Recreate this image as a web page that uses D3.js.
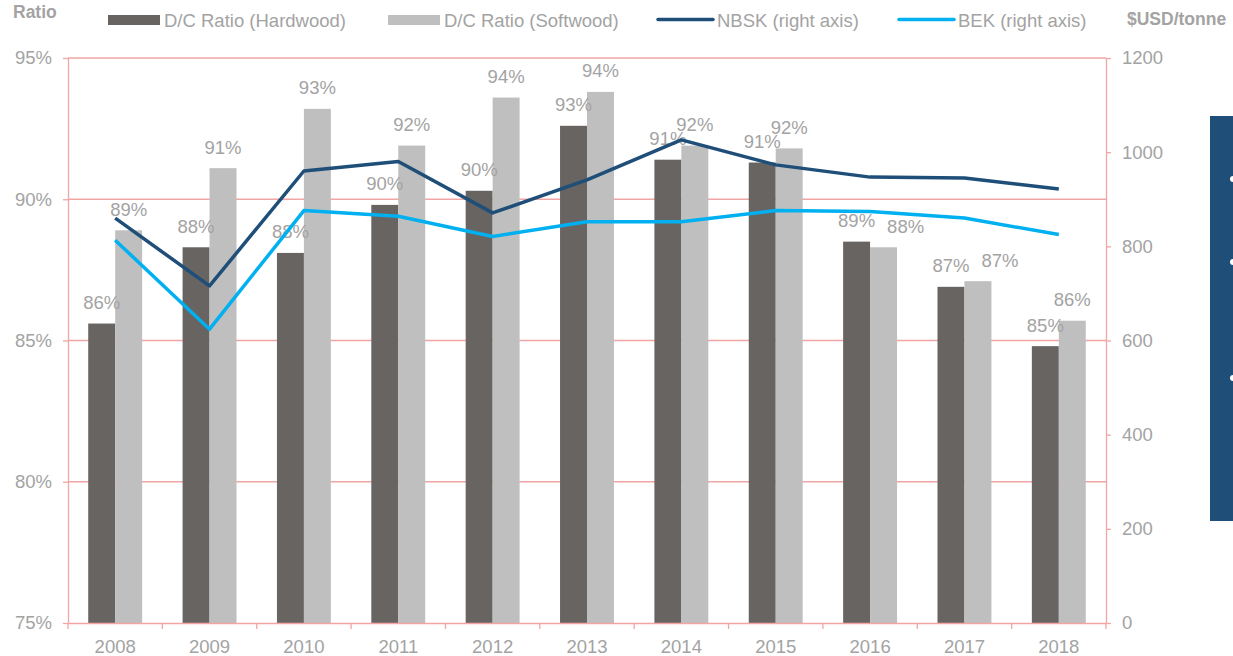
<!DOCTYPE html>
<html>
<head>
<meta charset="utf-8">
<script src="https://cdn.jsdelivr.net/npm/d3@7"></script>
<style>
  html, body { margin: 0; padding: 0; background: #ffffff; }
  svg { display: block; }
  text { font-family: "Liberation Sans", Arial, sans-serif; }
</style>
</head>
<body>
<svg id="chart" width="1233" height="656"></svg>
<script>
// Pulp market: demand/capacity ratios (left axis) and list prices (right axis)
const years = ["2008", "2009", "2010", "2011", "2012", "2013", "2014", "2015", "2016", "2017", "2018"];
const hardwoodRatio = [85.6, 88.3, 88.1, 89.8, 90.3, 92.6, 91.4, 91.3, 88.5, 86.9, 84.8];
const softwoodRatio = [88.9, 91.1, 93.2, 91.9, 93.6, 93.8, 91.9, 91.8, 88.3, 87.1, 85.7];
const nbskPrice = [860, 716, 960, 980, 871, 941, 1026, 973, 947, 945, 922];
const bekPrice = [813, 624, 876, 864, 821, 852, 852, 876, 874, 860, 825];
const ratioTicks = [75, 80, 85, 90, 95];
const priceTicks = [0, 200, 400, 600, 800, 1000, 1200];
const legendItems = [
  { label: "D/C Ratio (Hardwood)", kind: "bar", key: "hardwood" },
  { label: "D/C Ratio (Softwood)", kind: "bar", key: "softwood" },
  { label: "NBSK (right axis)", kind: "line", key: "nbsk" },
  { label: "BEK (right axis)", kind: "line", key: "bek" }
];

const colors = {
  hardwood: "#686462",
  softwood: "#bfbfbf",
  nbsk: "#1f4e79",
  bek: "#00b0f0",
  grid: "#f2a5a5",
  text: "#a3a3a3",
  panel: "#1f4e79"
};
const fontSize = "18.5px";

const svg = d3.select("#chart");
const margin = { left: 68, right: 1106, top: 58, bottom: 623 };

const x = d3.scaleBand().domain(years).range([margin.left, margin.right]).padding(0);
const xSeries = d3.scaleBand().domain(["hardwood", "softwood"]).range([0, x.bandwidth()])
  .paddingInner(0).paddingOuter(0.75);
const yLeft = d3.scaleLinear().domain([75, 95]).range([margin.bottom, margin.top]);
const yRight = d3.scaleLinear().domain([0, 1200]).range([margin.bottom, margin.top]);

// Horizontal gridlines
svg.append("g").selectAll("line")
  .data(ratioTicks.filter(d => d > 75))
  .join("line")
  .attr("x1", margin.left).attr("x2", margin.right)
  .attr("y1", d => yLeft(d)).attr("y2", d => yLeft(d))
  .attr("stroke", colors.grid).attr("stroke-width", 1.3);

// Bars
const rows = years.map((yr, i) => ({ year: yr, hardwood: hardwoodRatio[i], softwood: softwoodRatio[i] }));
const barGroups = svg.append("g").selectAll("g")
  .data(rows)
  .join("g")
  .attr("transform", d => `translate(${x(d.year)},0)`);
barGroups.selectAll("rect")
  .data(d => ["hardwood", "softwood"].map(k => ({ key: k, value: d[k] })))
  .join("rect")
  .attr("x", d => xSeries(d.key))
  .attr("width", xSeries.bandwidth())
  .attr("y", d => yLeft(d.value))
  .attr("height", d => yLeft(75) - yLeft(d.value))
  .attr("fill", d => colors[d.key]);

// Axes
const axisStyle = g => {
  g.selectAll(".domain").attr("stroke", colors.grid).attr("stroke-width", 1.3);
  g.selectAll(".tick line").attr("stroke", colors.grid).attr("stroke-width", 1.3);
  g.selectAll("text").attr("fill", colors.text).style("font-size", fontSize)
    .style("font-family", "'Liberation Sans', Arial, sans-serif");
};

svg.append("g")
  .attr("transform", `translate(${margin.left},0)`)
  .call(d3.axisLeft(yLeft).tickValues(ratioTicks).tickFormat(d => d + "%")
    .tickSizeInner(5).tickSizeOuter(0).tickPadding(11))
  .call(axisStyle);

svg.append("g")
  .attr("transform", `translate(${margin.right},0)`)
  .call(d3.axisRight(yRight).tickValues(priceTicks).tickFormat(d3.format("d"))
    .tickSizeInner(5).tickSizeOuter(0).tickPadding(11))
  .call(axisStyle);

const xAxis = svg.append("g")
  .attr("transform", `translate(0,${margin.bottom})`)
  .call(d3.axisBottom(x).tickSizeInner(0).tickSizeOuter(0).tickPadding(17))
  .call(axisStyle);
// Category boundary ticks
xAxis.append("g").selectAll("line")
  .data(years.map(y => x(y)).concat([margin.right]))
  .join("line")
  .attr("x1", d => d).attr("x2", d => d)
  .attr("y1", 0).attr("y2", 6)
  .attr("stroke", colors.grid).attr("stroke-width", 1.3);

// Price lines
const lineGen = vals => d3.line()
  .x((d, i) => x(years[i]) + x.bandwidth() / 2)
  .y(d => yRight(d))(vals);
svg.append("path").attr("d", lineGen(nbskPrice))
  .attr("fill", "none").attr("stroke", colors.nbsk).attr("stroke-width", 3.5)
  .attr("stroke-linejoin", "round");
svg.append("path").attr("d", lineGen(bekPrice))
  .attr("fill", "none").attr("stroke", colors.bek).attr("stroke-width", 3.5)
  .attr("stroke-linejoin", "round");

// Data labels: placed above each bar; when a pair sits at nearly the same
// height, the right-hand label is nudged right so the two stay readable.
const fmt = d => d3.format(".0f")(d) + "%";
const labelGap = 14.5;
const labels = barGroups.selectAll("text.value")
  .data(d => ["hardwood", "softwood"].map(k => ({ key: k, value: d[k] })))
  .join("text")
  .attr("class", "value")
  .attr("x", d => xSeries(d.key) + xSeries.bandwidth() / 2)
  .attr("y", d => yLeft(d.value) - labelGap)
  .attr("text-anchor", "middle")
  .attr("fill", colors.text)
  .style("font-size", fontSize)
  .text(d => fmt(d.value));

barGroups.each(function () {
  const pair = d3.select(this).selectAll("text.value").nodes();
  if (pair.length !== 2) return;
  const [a, b] = pair;
  const ya = +a.getAttribute("y"), yb = +b.getAttribute("y");
  if (Math.abs(ya - yb) < 8) {
    const ba = a.getBBox(), bb = b.getBBox();
    const needed = ba.x + ba.width + 12 - bb.x;
    if (needed > 0) b.setAttribute("x", +b.getAttribute("x") + needed);
  }
});

// Axis titles
svg.append("text").attr("x", 13).attr("y", 18)
  .attr("fill", colors.text).style("font-size", "17.5px").style("font-weight", "bold")
  .text("Ratio");
svg.append("text").attr("x", 1127).attr("y", 24.5)
  .attr("fill", colors.text).style("font-size", "17.5px").style("font-weight", "bold")
  .text("$USD/tonne");

// Legend
const legendX = [108, 388, 658, 899];
const legend = svg.append("g").selectAll("g")
  .data(legendItems)
  .join("g")
  .attr("transform", (d, i) => `translate(${legendX[i]},0)`);
legend.filter(d => d.kind === "bar").append("rect")
  .attr("x", 0).attr("y", 15).attr("width", 52).attr("height", 10)
  .attr("fill", d => colors[d.key]);
legend.filter(d => d.kind === "line").append("line")
  .attr("x1", 0).attr("x2", 55).attr("y1", 19.5).attr("y2", 19.5)
  .attr("stroke", d => colors[d.key]).attr("stroke-width", 3.5)
  .attr("stroke-linecap", "round");
legend.append("text")
  .attr("x", d => d.kind === "bar" ? 56 : 59)
  .attr("y", 26.5)
  .attr("fill", colors.text)
  .style("font-size", fontSize)
  .text(d => d.label);

// Side panel with bullet markers
svg.append("rect").attr("x", 1210).attr("y", 116).attr("width", 30).attr("height", 405)
  .attr("fill", colors.panel);
svg.append("g").selectAll("circle")
  .data([179, 262, 378])
  .join("circle")
  .attr("cx", 1233).attr("cy", d => d).attr("r", 3)
  .attr("fill", "#ffffff");
</script>
</body>
</html>
